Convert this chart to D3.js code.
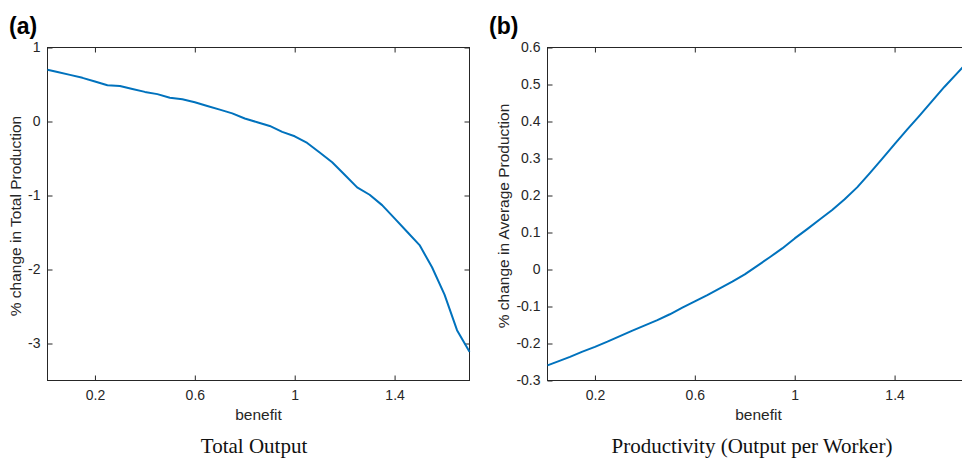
<!DOCTYPE html>
<html>
<head>
<meta charset="utf-8">
<script src="https://cdn.jsdelivr.net/npm/d3@7"></script>
<style>
  body { margin: 0; background: #fff; }
</style>
</head>
<body>
<script>
// benefit levels (x) shared by both panels
var benefit = [0.01, 0.05, 0.10, 0.15, 0.20, 0.25, 0.30, 0.35, 0.40, 0.45, 0.50, 0.55, 0.60, 0.65, 0.70,
               0.75, 0.80, 0.85, 0.90, 0.95, 1.00, 1.05, 1.10, 1.15, 1.20, 1.25, 1.30, 1.35, 1.40, 1.45,
               1.50, 1.55, 1.60, 1.65, 1.70];

// (a) % change in total production
var totalOutput = [0.70, 0.67, 0.63, 0.59, 0.54, 0.49, 0.48, 0.44, 0.40, 0.37, 0.32, 0.30, 0.26, 0.21, 0.16,
                   0.11, 0.04, -0.01, -0.06, -0.14, -0.20, -0.29, -0.42, -0.55, -0.72, -0.89, -0.99, -1.13, -1.31, -1.49,
                   -1.67, -1.97, -2.34, -2.82, -3.11];

// (b) % change in average production
var productivity = [-0.259, -0.249, -0.236, -0.222, -0.209, -0.195, -0.180, -0.165, -0.151, -0.137, -0.121, -0.103, -0.086, -0.069, -0.051,
                    -0.033, -0.013, 0.010, 0.033, 0.057, 0.084, 0.109, 0.135, 0.161, 0.190, 0.222, 0.260, 0.299, 0.339, 0.378,
                    0.416, 0.455, 0.494, 0.530, 0.566];

var xTicks = [0.2, 0.6, 1, 1.4];
var yTicksA = [1, 0, -1, -2, -3];
var yTicksB = [0.6, 0.5, 0.4, 0.3, 0.2, 0.1, 0, -0.1, -0.2, -0.3];

var W = 962, H = 459;
var svg = d3.select("body").append("svg")
    .attr("width", W)
    .attr("height", H);

// MATLAB style labels: plain hyphen for negatives
function fmtA(d) { return String(d); }
function fmtB(d) { return d === 0 ? "0" : d.toFixed(1); }

var panels = [
  {left: 47.5, tag: "(a)", tagX: 9, data: totalOutput, ydom: [-3.5, 1], yticks: yTicksA,
   ylabel: "% change in Total Production", ylabelX: 20.5, caption: "Total Output", capX: 254, fmt: fmtA},
  {left: 547.5, tag: "(b)", tagX: 489, data: productivity, ydom: [-0.3, 0.6], yticks: yTicksB,
   ylabel: "% change in Average Production", ylabelX: 508.5, caption: "Productivity (Output per Worker)", capX: 752, fmt: fmtB}
];

var plotTop = 47.5, plotBottom = 380.5, pw = 422;
var axisCol = "#262626";
var sans = "'Liberation Sans', Arial, Helvetica, sans-serif";

panels.forEach(function(p) {
  var x = d3.scaleLinear().domain([0.01, 1.7]).range([p.left, p.left + pw]);
  var y = d3.scaleLinear().domain(p.ydom).range([plotBottom, plotTop]);

  var g = svg.append("g");

  // box ticks, pointing inward on all four sides
  g.append("g").attr("class", "axis")
      .attr("transform", "translate(0," + plotBottom + ")")
      .call(d3.axisBottom(x).tickValues(xTicks).tickSize(-5).tickPadding(10).tickFormat(fmtA));
  g.append("g").attr("class", "axis")
      .attr("transform", "translate(0," + plotTop + ")")
      .call(d3.axisTop(x).tickValues(xTicks).tickSize(-5).tickFormat(""));
  g.append("g").attr("class", "axis")
      .attr("transform", "translate(" + p.left + ",0)")
      .call(d3.axisLeft(y).tickValues(p.yticks).tickSize(-5).tickPadding(7).tickFormat(p.fmt));
  g.append("g").attr("class", "axis")
      .attr("transform", "translate(" + (p.left + pw) + ",0)")
      .call(d3.axisRight(y).tickValues(p.yticks).tickSize(-5).tickFormat(""));
  g.selectAll(".domain").remove();
  g.selectAll(".tick line").attr("stroke", axisCol);
  g.selectAll(".axis text")
      .attr("fill", axisCol)
      .style("font-family", sans)
      .style("font-size", "14px");

  g.append("rect")
      .attr("x", p.left).attr("y", plotTop)
      .attr("width", pw).attr("height", plotBottom - plotTop)
      .attr("fill", "none").attr("stroke", axisCol).attr("stroke-width", 1);

  var line = d3.line()
      .x(function(d, i) { return x(benefit[i]); })
      .y(function(d) { return y(d); });

  g.append("path")
      .datum(p.data)
      .attr("d", line)
      .attr("fill", "none")
      .attr("stroke", "#0072BD")
      .attr("stroke-width", 2)
      .attr("stroke-linejoin", "round");

  g.append("text")
      .attr("x", p.tagX).attr("y", 34)
      .style("font-family", sans)
      .style("font-weight", "bold").style("font-size", "23px")
      .text(p.tag);

  g.append("text")
      .attr("transform", "translate(" + p.ylabelX + "," + ((plotTop + plotBottom) / 2 + 2) + ") rotate(-90)")
      .attr("text-anchor", "middle")
      .style("font-family", sans)
      .style("font-size", "15.5px").attr("fill", axisCol)
      .text(p.ylabel);

  g.append("text")
      .attr("x", p.left + pw / 2).attr("y", 419.5)
      .attr("text-anchor", "middle")
      .style("font-family", sans)
      .style("font-size", "15.5px").attr("fill", axisCol)
      .text("benefit");

  g.append("text")
      .attr("x", p.capX).attr("y", 453)
      .attr("text-anchor", "middle")
      .style("font-family", "'Liberation Serif', 'DejaVu Serif', serif")
      .style("font-size", "21px").attr("fill", "#111")
      .text(p.caption);
});
</script>
</body>
</html>
